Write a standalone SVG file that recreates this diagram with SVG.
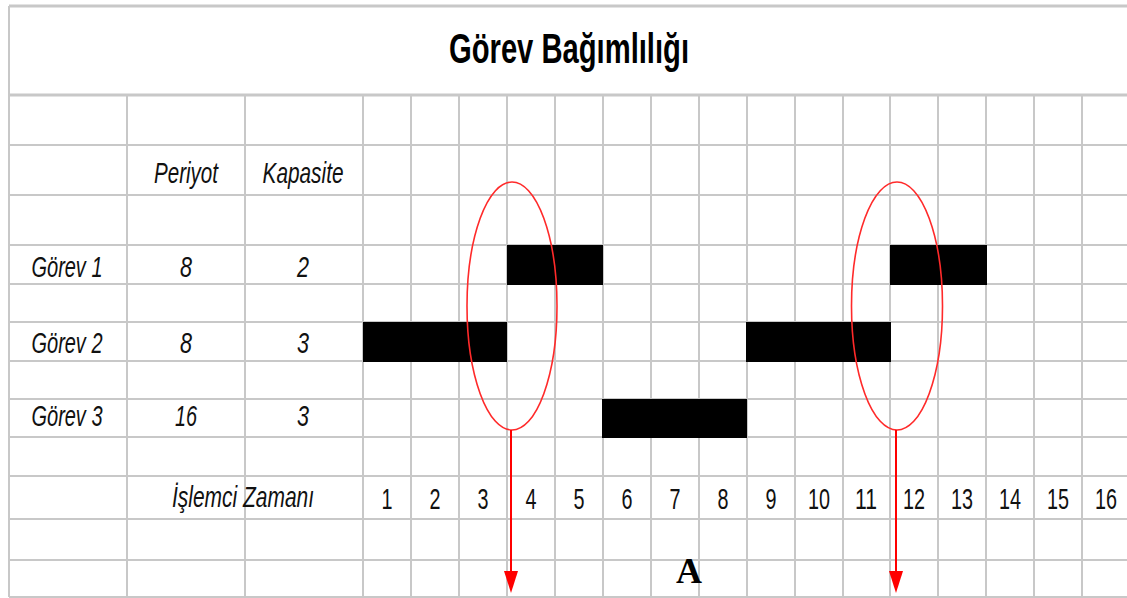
<svg xmlns="http://www.w3.org/2000/svg" width="1127" height="598" viewBox="0 0 1127 598">
  <style>
    .grid line { stroke: #c8c8c8; stroke-width: 2; }
    .t { font-family: "Liberation Sans", Arial, sans-serif; font-size: 30px; fill: #111; text-anchor: middle; }
    .i { font-style: italic; }
    .title { font-family: "Liberation Sans", Arial, sans-serif; font-size: 43px; font-weight: bold; fill: #000; text-anchor: middle; }
    .bar { fill: #000; }
    .ring { fill: none; stroke: #ff2a2a; stroke-width: 1.6; }
    .arrow { stroke: #ff0000; stroke-width: 2; fill: none; }
    .letter { font-family: "Liberation Serif", "Times New Roman", serif; font-size: 36px; font-weight: bold; fill: #000; text-anchor: middle; }
  </style>
  <defs>
    <marker id="ah" viewBox="0 0 22 14" refX="0" refY="7" markerWidth="22" markerHeight="14" markerUnits="userSpaceOnUse" orient="auto">
      <path d="M0,0 L22,7 L0,14 z" fill="#ff0000"/>
    </marker>
  </defs>
  <rect x="0" y="0" width="1127" height="598" fill="#ffffff"/>

  <g id="grid" class="grid">
    <line x1="9" y1="6" x2="1127" y2="6" style="stroke-width:3"/>
    <line x1="9" y1="95" x2="1127" y2="95" style="stroke-width:3"/>
    <line x1="9" y1="145" x2="1127" y2="145"/>
    <line x1="9" y1="195" x2="1127" y2="195"/>
    <line x1="9" y1="245" x2="1127" y2="245"/>
    <line x1="9" y1="284" x2="1127" y2="284"/>
    <line x1="9" y1="322" x2="1127" y2="322"/>
    <line x1="9" y1="361" x2="1127" y2="361"/>
    <line x1="9" y1="399" x2="1127" y2="399"/>
    <line x1="9" y1="437" x2="1127" y2="437"/>
    <line x1="9" y1="476" x2="1127" y2="476"/>
    <line x1="9" y1="519" x2="1127" y2="519"/>
    <line x1="9" y1="560" x2="1127" y2="560"/>
    <line x1="9" y1="597" x2="1127" y2="597"/>
    <line x1="9" y1="6" x2="9" y2="597"/>
    <line x1="127" y1="95" x2="127" y2="597"/>
    <line x1="245" y1="95" x2="245" y2="597"/>
    <line x1="363" y1="95" x2="363" y2="597"/>
    <line x1="411" y1="95" x2="411" y2="597"/>
    <line x1="459" y1="95" x2="459" y2="597"/>
    <line x1="507" y1="95" x2="507" y2="597"/>
    <line x1="555" y1="95" x2="555" y2="597"/>
    <line x1="603" y1="95" x2="603" y2="597"/>
    <line x1="651" y1="95" x2="651" y2="597"/>
    <line x1="699" y1="95" x2="699" y2="597"/>
    <line x1="747" y1="95" x2="747" y2="597"/>
    <line x1="795" y1="95" x2="795" y2="597"/>
    <line x1="843" y1="95" x2="843" y2="597"/>
    <line x1="890" y1="95" x2="890" y2="597"/>
    <line x1="938" y1="95" x2="938" y2="597"/>
    <line x1="986" y1="95" x2="986" y2="597"/>
    <line x1="1034" y1="95" x2="1034" y2="597"/>
    <line x1="1082" y1="95" x2="1082" y2="597"/>
  </g>

  <g id="title">
    <text class="title" x="569" y="63" textLength="240" lengthAdjust="spacingAndGlyphs">Görev Bağımlılığı</text>
  </g>

  <g id="header">
    <text class="t i" x="186" y="183" textLength="64" lengthAdjust="spacingAndGlyphs">Periyot</text>
    <text class="t i" x="303" y="183" textLength="81" lengthAdjust="spacingAndGlyphs">Kapasite</text>
  </g>

  <g id="task1">
    <text class="t i" x="67" y="277" textLength="71" lengthAdjust="spacingAndGlyphs">Görev 1</text>
    <text class="t i" x="186" y="277" textLength="12" lengthAdjust="spacingAndGlyphs">8</text>
    <text class="t i" x="303" y="277" textLength="12" lengthAdjust="spacingAndGlyphs">2</text>
    <rect class="bar" x="507" y="245" width="96" height="40"/>
    <rect class="bar" x="890" y="245" width="97" height="40"/>
  </g>

  <g id="task2">
    <text class="t i" x="67" y="353" textLength="71" lengthAdjust="spacingAndGlyphs">Görev 2</text>
    <text class="t i" x="186" y="353" textLength="12" lengthAdjust="spacingAndGlyphs">8</text>
    <text class="t i" x="303" y="353" textLength="12" lengthAdjust="spacingAndGlyphs">3</text>
    <rect class="bar" x="363" y="322" width="144" height="40"/>
    <rect class="bar" x="746" y="322" width="145" height="40"/>
  </g>

  <g id="task3">
    <text class="t i" x="67" y="426" textLength="71" lengthAdjust="spacingAndGlyphs">Görev 3</text>
    <text class="t i" x="186" y="426" textLength="22" lengthAdjust="spacingAndGlyphs">16</text>
    <text class="t i" x="303" y="426" textLength="12" lengthAdjust="spacingAndGlyphs">3</text>
    <rect class="bar" x="602" y="399" width="145" height="39"/>
  </g>

  <g id="time-axis">
    <text class="t i" x="243" y="507" textLength="142" lengthAdjust="spacingAndGlyphs">İşlemci Zamanı</text>
    <text class="t" x="387" y="509" textLength="11" lengthAdjust="spacingAndGlyphs">1</text>
    <text class="t" x="435" y="509" textLength="11" lengthAdjust="spacingAndGlyphs">2</text>
    <text class="t" x="483" y="509" textLength="11" lengthAdjust="spacingAndGlyphs">3</text>
    <text class="t" x="531" y="509" textLength="11" lengthAdjust="spacingAndGlyphs">4</text>
    <text class="t" x="579" y="509" textLength="11" lengthAdjust="spacingAndGlyphs">5</text>
    <text class="t" x="627" y="509" textLength="11" lengthAdjust="spacingAndGlyphs">6</text>
    <text class="t" x="675" y="509" textLength="11" lengthAdjust="spacingAndGlyphs">7</text>
    <text class="t" x="723" y="509" textLength="11" lengthAdjust="spacingAndGlyphs">8</text>
    <text class="t" x="771" y="509" textLength="11" lengthAdjust="spacingAndGlyphs">9</text>
    <text class="t" x="819" y="509" textLength="22" lengthAdjust="spacingAndGlyphs">10</text>
    <text class="t" x="866" y="509" textLength="22" lengthAdjust="spacingAndGlyphs">11</text>
    <text class="t" x="914" y="509" textLength="22" lengthAdjust="spacingAndGlyphs">12</text>
    <text class="t" x="962" y="509" textLength="22" lengthAdjust="spacingAndGlyphs">13</text>
    <text class="t" x="1010" y="509" textLength="22" lengthAdjust="spacingAndGlyphs">14</text>
    <text class="t" x="1058" y="509" textLength="22" lengthAdjust="spacingAndGlyphs">15</text>
    <text class="t" x="1106" y="509" textLength="22" lengthAdjust="spacingAndGlyphs">16</text>
  </g>

  <g id="highlight-1">
    <ellipse class="ring" cx="512" cy="306" rx="45" ry="124"/>
  </g>
  <g id="highlight-2">
    <ellipse class="ring" cx="897" cy="306" rx="45.5" ry="124"/>
  </g>

  <g id="connectors">
    <line class="arrow" x1="511" y1="430" x2="511" y2="571" marker-end="url(#ah)"/>
    <line class="arrow" x1="896" y1="430" x2="896" y2="571" marker-end="url(#ah)"/>
  </g>

  <g id="label-A">
    <text class="letter" x="689" y="583">A</text>
  </g>
</svg>
